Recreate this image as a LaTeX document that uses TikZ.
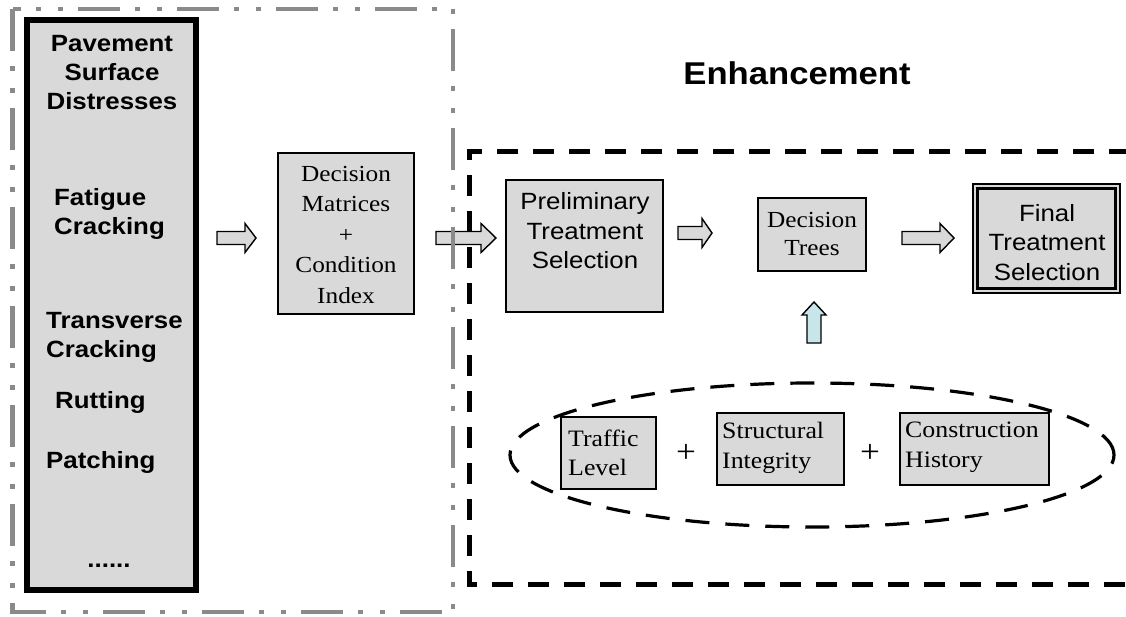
\documentclass[tikz,border=0pt]{standalone}
\usepackage{fontspec}
\setmainfont{Liberation Serif}[FakeStretch=1.1]
\newfontfamily\arialf{Liberation Sans}[FakeStretch=1.1]
\usetikzlibrary{calc,shapes.geometric}
\definecolor{boxgray}{HTML}{D9D9D9}
\definecolor{framegray}{HTML}{8A8A8A}
\definecolor{paleblue}{HTML}{C8E6EA}
\newcommand\harrow[3]{% tail, tip, head length
  \draw[blockarrow] let \p1=(#1),\p2=(#2) in
    (\x1,\y1+6.5pt) -- (\x2-#3,\y1+6.5pt) -- (\x2-#3,\y1+14.5pt) -- (\x2,\y1)
    -- (\x2-#3,\y1-14.5pt) -- (\x2-#3,\y1-6.5pt) -- (\x1,\y1-6.5pt) -- cycle;}
\begin{document}
\begin{tikzpicture}[x=1pt,y=-1pt,
  graybox/.style={draw=black,fill=boxgray,line width=1.6pt,inner sep=0pt},
  txt/.style={inner sep=0pt,align=center},
  bsans/.style={txt,font=\arialf\bfseries\fontsize{23.5}{29}\selectfont},
  rsans/.style={txt,font=\arialf\fontsize{23.5}{29.5}\selectfont},
  serif/.style={txt,font=\fontsize{23}{30.5}\selectfont},
  blockarrow/.style={draw=black,fill=boxgray,line width=1.4pt,line join=miter},
  frame/.style={draw=framegray,line width=4.5pt,dash pattern=on 42pt off 15pt on 5pt off 17pt on 5pt off 15pt},
  blackdash/.style={draw=black,line width=5pt,dash pattern=on 21pt off 15pt},
  elldash/.style={draw=black,line width=3.2pt,dash pattern=on 24pt off 16pt}]
\useasboundingbox (0,0) rectangle (1126,617);

% enhancement region (black dashed)
\coordinate (en1) at (1130,152);
\coordinate (en2) at (469,152);
\coordinate (en3) at (469,584);
\coordinate (en4) at (1130,584);
\draw[blackdash] (en1) -- (en2) -- (en3) -- (en4);
\node[txt,font=\arialf\bfseries\fontsize{31.5}{36}\selectfont] (title) at (797,73.5) {Enhancement};

% left distress box
\node[draw=black,fill=boxgray,line width=6pt,minimum width=169pt,minimum height=570pt,inner sep=0pt] (dist) at (111.5,305) {};
\node[bsans] (t1) at (112,73) {Pavement\\Surface\\Distresses};
\node[bsans,align=left,anchor=west] (t2) at (54,213.5) {Fatigue\\Cracking};
\node[bsans,align=left,anchor=west] (t3) at (46,337.5) {Transverse\\Cracking};
\node[bsans,anchor=west] (t4) at (55,402.5) {Rutting};
\node[bsans,anchor=west] (t5) at (46,462.5) {Patching};
\node[bsans] (t6) at (109,566) {......};

% decision matrices
\node[graybox,minimum width=136.5pt,minimum height=161.5pt] (dm) at (346,233.5) {};
\node[serif] (dmt) at (346,234.5) {Decision\\Matrices\\+\\Condition\\Index};

% preliminary treatment selection
\node[graybox,minimum width=157.5pt,minimum height=132.5pt] (pts) at (584.5,246) {};
\node[rsans] (ptst) at (585,231) {Preliminary\\Treatment\\Selection};

% decision trees
\node[graybox,minimum width=108.5pt,minimum height=73.5pt] (dt) at (812,234.5) {};
\node[serif,font=\fontsize{23}{28}\selectfont] (dtt) at (812,234) {Decision\\Trees};

% final treatment selection
\node[graybox,line width=1.4pt,minimum width=147pt,minimum height=109pt] (fts) at (1046.5,238.5) {};
\draw[line width=3.2pt] ($(fts.north west)+(5.5,5.5)$) rectangle ($(fts.south east)+(-5.5,-5.5)$);
\node[rsans] (ftst) at (1047,242.5) {Final\\Treatment\\Selection};

% ellipse of factors
\node[elldash,ellipse,minimum width=604pt,minimum height=144pt,inner sep=0pt] (ell) at (812,455) {};
\node[graybox,minimum width=95.5pt,minimum height=72.5pt] (tl) at (608.5,453) {};
\node[serif,align=left,anchor=west,font=\fontsize{23.5}{29}\selectfont] (tlt) at (568,452.5) {Traffic\\Level};
\node[graybox,minimum width=127.5pt,minimum height=72.5pt] (si) at (780.5,449) {};
\node[serif,align=left,anchor=west,font=\fontsize{23.5}{30}\selectfont] (sit) at (722,447.5) {Structural\\Integrity};
\node[graybox,minimum width=149.5pt,minimum height=72.5pt] (ch) at (974.5,449) {};
\node[serif,align=left,anchor=west,font=\fontsize{23.5}{30}\selectfont] (cht) at (905,447.5) {Construction\\History};
\node[txt,font=\fontsize{32}{34}\selectfont] (p1) at (686,453) {+};
\node[txt,font=\fontsize{32}{34}\selectfont] (p2) at (870,453) {+};

% block arrows
\coordinate (a1s) at (217,238); \coordinate (a1e) at (256,238);
\coordinate (a2s) at (436,238); \coordinate (a2e) at (496,238);
\coordinate (a3s) at (678,233); \coordinate (a3e) at (712,233);
\coordinate (a4s) at (902,238); \coordinate (a4e) at (954,238);
\harrow{a1s}{a1e}{11pt}
\harrow{a2s}{a2e}{15pt}
\harrow{a3s}{a3e}{10pt}
\harrow{a4s}{a4e}{14pt}
\coordinate (ups) at (814,343); \coordinate (upe) at (814,302);
\draw[blockarrow,fill=paleblue] let \p1=(ups),\p2=(upe) in
  (\x1-7pt,\y1) -- (\x1-7pt,\y2-13pt) -- (\x1-12pt,\y2-13pt) -- (\x1,\y2)
  -- (\x1+12pt,\y2-13pt) -- (\x1+7pt,\y2-13pt) -- (\x1+7pt,\y1) -- cycle;

% outer gray frame on top
\coordinate (fr1) at (12.5,9);
\coordinate (fr2) at (453,612);
\draw[frame] (fr1) rectangle (fr2);
\end{tikzpicture}
\end{document}
